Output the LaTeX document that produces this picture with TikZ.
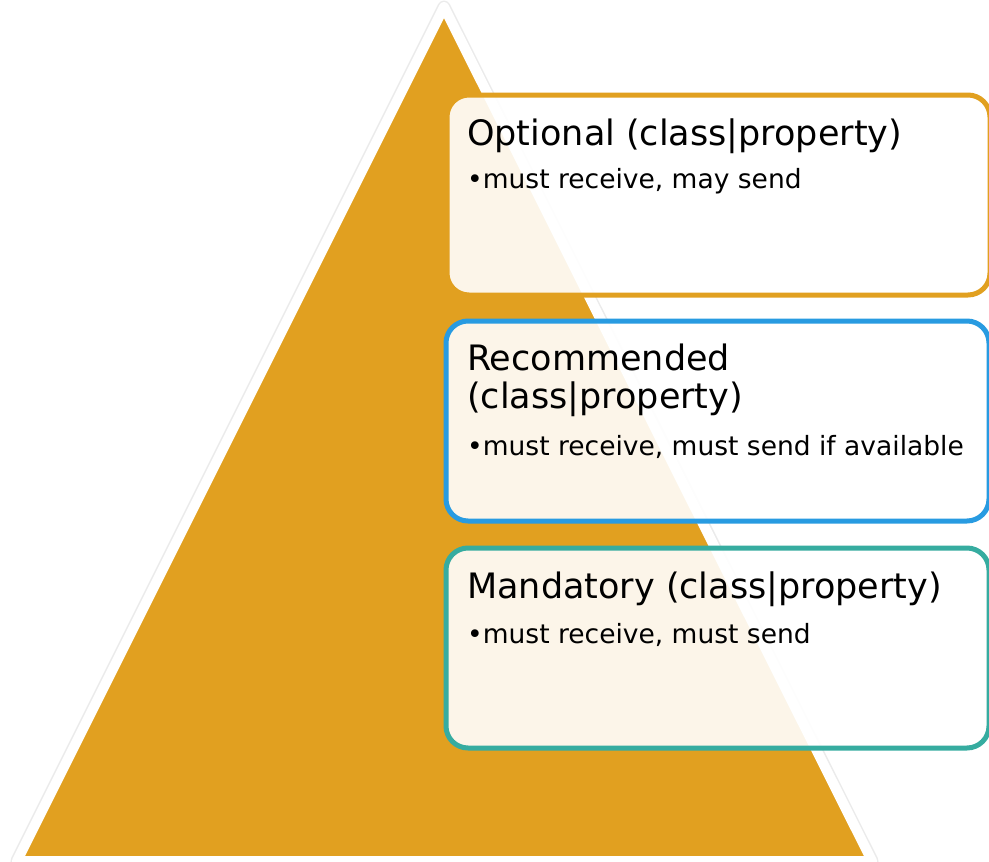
\documentclass[tikz,border=0pt]{standalone}
\usepackage{fontspec}
\setmainfont{DejaVu Sans}
\usepackage{tikz}
\usetikzlibrary{positioning}

\definecolor{pyrgold}{RGB}{225,160,32}
\definecolor{recblue}{RGB}{40,155,225}
\definecolor{mandteal}{RGB}{54,172,160}

\begin{document}
\begin{tikzpicture}[x=1pt,y=-1pt,
        levelbox/.style={draw=#1, line width=5pt, rounded corners=22pt,
            fill=white, fill opacity=0.9, minimum width=543pt,
            minimum height=200pt, anchor=north west, inner sep=0pt, outer sep=0pt},
        title/.style={anchor=base west, inner sep=0pt, font=\fontsize{35}{40}\selectfont},
        item/.style={anchor=base west, inner sep=0pt, font=\fontsize{26.5}{30}\selectfont}]
        \useasboundingbox (0,0) rectangle (989,862);
        \clip (0,0) rectangle (989,862);

        \coordinate (apex) at (444,7);
        \coordinate (bl) at (17,861);
        \coordinate (br) at (872,861);

        % pyramid with its white rim
        \draw[black!8, line width=13pt, line join=round] (apex) -- (bl) -- (br) -- cycle;
        \filldraw[fill=pyrgold, draw=white, line width=10pt, line join=round] (apex) -- (bl) -- (br) -- cycle;

        \node[levelbox=pyrgold] (optbox) at (447,95) {};
        \node[levelbox=recblue] (recbox) at (446,321) {};
        \node[levelbox=mandteal] (mandbox) at (446,548) {};

        \node[title] (opttitle) at ([shift={(20,50)}]optbox.north west) {Optional (class|property)};
        \node[item] (optitem) at ([shift={(0,43)}]opttitle.base west) {•must receive, may send};

        \node[title] (rectitle) at ([shift={(21,49)}]recbox.north west) {Recommended};
        \node[title] (rectitleb) at ([shift={(0,38)}]rectitle.base west) {(class|property)};
        \node[item] (recitem) at ([shift={(0,47)}]rectitleb.base west) {•must receive, must send if available};

        \node[title] (mandtitle) at ([shift={(21,50)}]mandbox.north west) {Mandatory (class|property)};
        \node[item] (manditem) at ([shift={(0,45)}]mandtitle.base west) {•must receive, must send};
    \end{tikzpicture}
\end{document}
